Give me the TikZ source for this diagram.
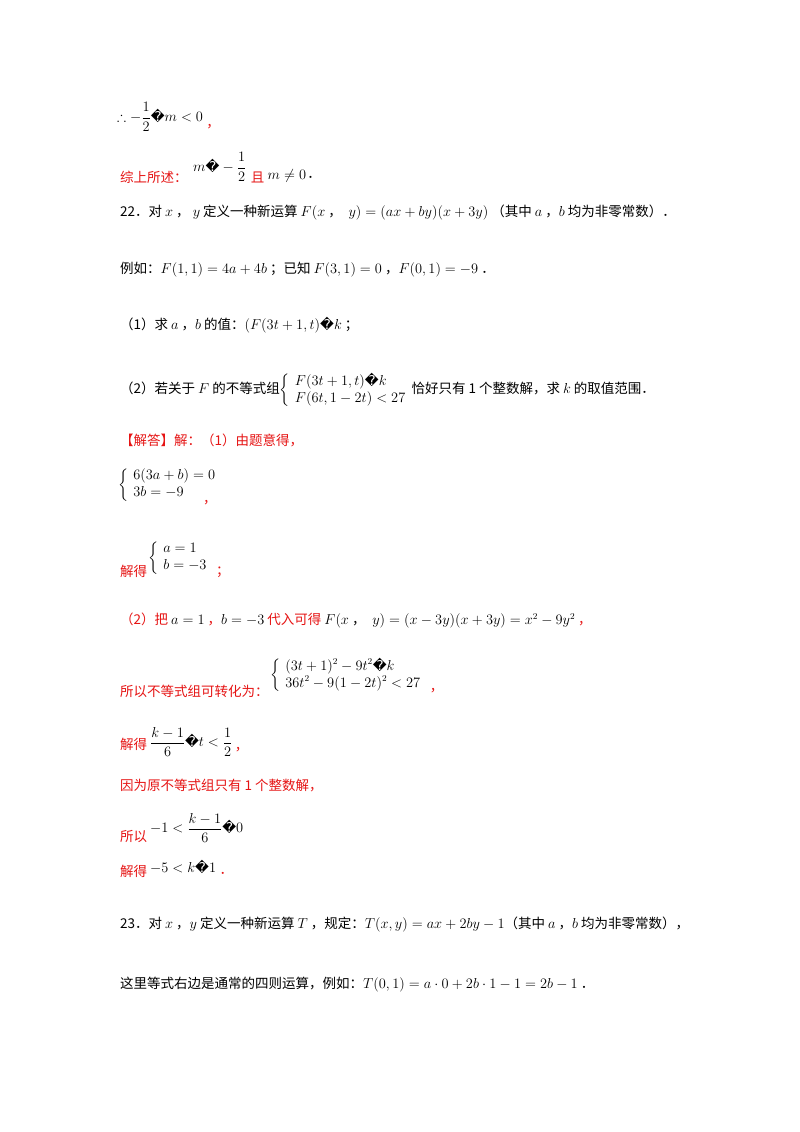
\documentclass[tikz,border=0pt]{standalone}
\usepackage{amsmath,amssymb}
\usepackage{fontspec}
\usetikzlibrary{calc}
\newfontfamily\cjk{Noto Sans CJK SC}
\newfontfamily\djv{DejaVu Sans}
\newcommand{\qq}{\mbox{\djv\symbol{"FFFD}}}
\definecolor{ansred}{RGB}{230,20,20}
\begin{document}
\begin{tikzpicture}[x=1pt,y=-1pt,
  txt/.style={anchor=west,inner sep=0pt,font=\fontsize{13.5}{17}\selectfont\cjk},
  red/.style={txt,text=ansred}]
\fill[white] (0,0) rectangle (800,1132);
\useasboundingbox (0,0) rectangle (800,1132);
\node[txt] (l1) at (117,117) {$\therefore -\dfrac{1}{2}\qq m<0$};
\node[red] (l1c) at ($(l1.east)+(3,10)$) {，};
\node[red] (l2a) at (120,177) {综上所述：};
\node[txt] (l2b) at (193,167) {$m\qq-\dfrac{1}{2}$};
\node[red] (l2c) at ($(l2b.east)+(4,10)$) {且};
\node[txt] (l2d) at ($(l2c.east)+(3,-1)$) {$m\neq 0$};
\node[txt] (l2e) at ($(l2d.east)+(1,1)$) {．};
\node[txt] (l3) at (120,213) {22．对 $x$ ， $y$ 定义一种新运算 $F(x$ ，\; $y)=(ax+by)(x+3y)$ （其中 $a$ ，$b$ 均为非零常数）．};
\node[txt] (l4) at (120,270) {例如：$F(1,1)=4a+4b$ ；已知 $F(3,1)=0$ ，$F(0,1)=-9$ ．};
\node[txt] (l5) at (120,325) {（1）求 $a$ ，$b$ 的值：$(F(3t+1,t)\qq k$ ；};
\node[txt] (l6) at (120,390) {（2）若关于 $F$ 的不等式组$\left\{\begin{array}{l}F(3t+1,t)\qq k\\ F(6t,1-2t)<27\end{array}\right.$恰好只有 1 个整数解，求 $k$ 的取值范围．};
\node[red] (l7) at (120,440) {【解答】解：（1）由题意得，};
\node[txt] (l8) at (118,485) {$\left\{\begin{array}{l}6(3a+b)=0\\ 3b=-9\end{array}\right.$};
\node[red] (l8c) at (203,503) {，};
\node[red] (l9a) at (120,571) {解得};
\node[txt] (l9b) at (148,558) {$\left\{\begin{array}{l}a=1\\ b=-3\end{array}\right.$};
\node[red] (l9c) at ($(l9b.east)+(3,14)$) {；};
\node[red] (l10) at (120,621) {（2）把 \textcolor{black}{$a=1$} ，\textcolor{black}{$b=-3$} 代入可得 \textcolor{black}{$F(x$ ，\; $y)=(x-3y)(x+3y)=x^2-9y^2$} ，};
\node[red] (l11a) at (120,691) {所以不等式组可转化为：};
\node[txt] (l11b) at (270,675) {$\left\{\begin{array}{l}(3t+1)^2-9t^2\qq k\\ 36t^2-9(1-2t)^2<27\end{array}\right.$};
\node[red] (l11c) at ($(l11b.east)+(3,16)$) {，};
\node[red] (l12a) at (120,744) {解得};
\node[txt] (l12b) at (150,742) {$\dfrac{k-1}{6}\qq t<\dfrac{1}{2}$};
\node[red] (l12c) at ($(l12b.east)+(2,8)$) {，};
\node[red] (l13) at (120,786) {因为原不等式组只有 1 个整数解，};
\node[red] (l14a) at (120,836) {所以};
\node[txt] (l14b) at (150,828) {$-1<\dfrac{k-1}{6}\qq 0$};
\node[red] (l15a) at (120,871) {解得};
\node[txt] (l15b) at (150,867) {$-5<k\qq 1$};
\node[red] (l15c) at ($(l15b.east)+(3,6)$) {．};
\node[txt] (l16) at (120,925) {23．对 $x$ ，$y$ 定义一种新运算 $T$ ，规定：$T(x,y)=ax+2by-1$（其中 $a$ ，$b$ 均为非零常数），};
\node[txt] (l17) at (120,985) {这里等式右边是通常的四则运算，例如：$T(0,1)=a\cdot 0+2b\cdot 1-1=2b-1$ ．};
\end{tikzpicture}
\end{document}
